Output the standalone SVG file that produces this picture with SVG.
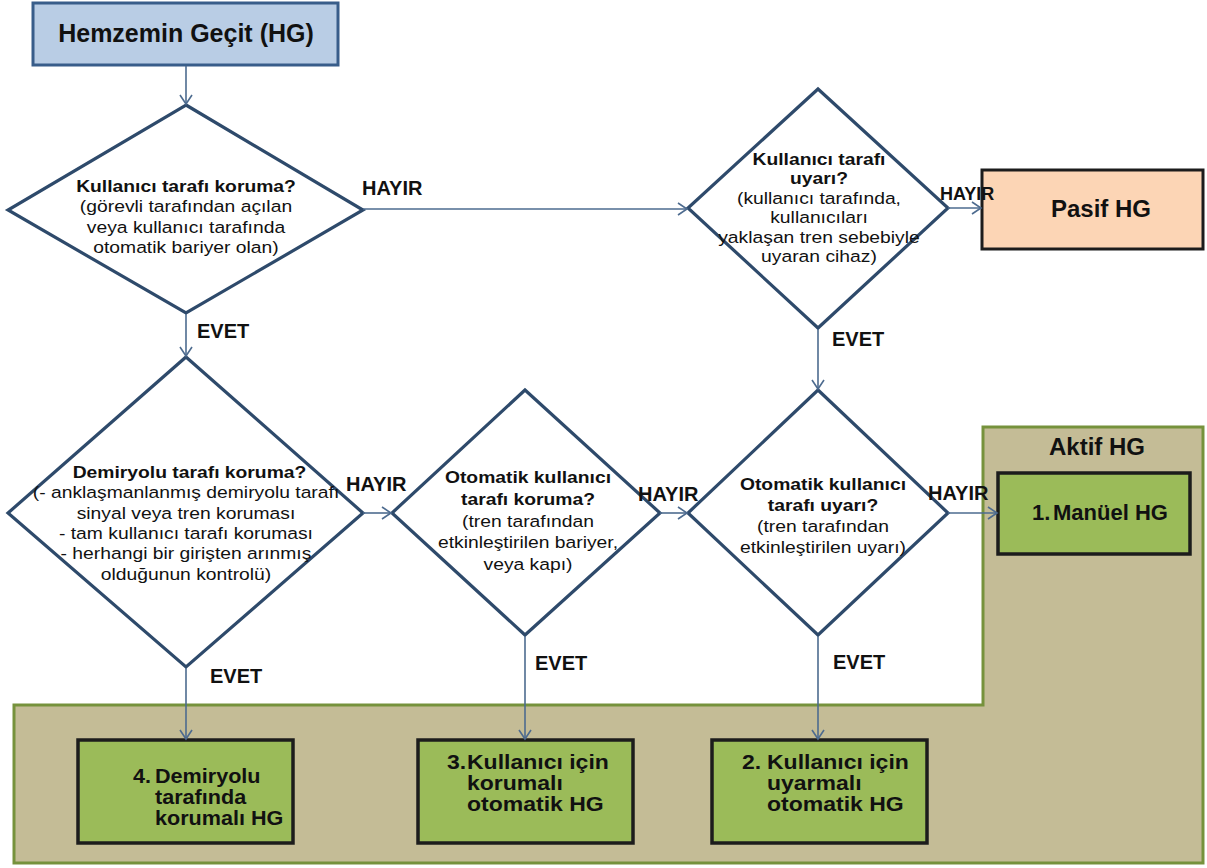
<svg xmlns="http://www.w3.org/2000/svg" width="1207" height="868" viewBox="0 0 1207 868">
<defs>
<style>
.t{font-family:"Liberation Sans",Arial,sans-serif;fill:#111;}
.b{font-weight:bold;}
.dia{fill:#fff;stroke:#2e4a6b;stroke-width:3.2;stroke-linejoin:miter;}
.res{fill:#9bbb59;stroke:#1c1c1c;stroke-width:3.5;}
.con{fill:none;stroke:#4d6b8f;stroke-width:1.6;marker-end:url(#ah);}
.lbl{font-family:"Liberation Sans",Arial,sans-serif;font-weight:bold;font-size:20px;fill:#111;}
.d{font-size:16.5px;text-anchor:middle;}
.bx{font-size:20px;font-weight:bold;}
</style>
<marker id="ah" markerUnits="userSpaceOnUse" markerWidth="12" markerHeight="14" refX="10" refY="7" orient="auto">
<path d="M1,1 L10,7 L1,13" fill="none" stroke="#4d6b8f" stroke-width="1.6"/>
</marker>
</defs>
<rect width="1207" height="868" fill="#fff"/>

<g id="aktif-hg">
<path d="M983,427 H1203 V863 H14 V705 H983 Z" fill="#c4bc96" stroke="#76923c" stroke-width="3"/>
<text class="t b" x="1097" y="455" font-size="24" text-anchor="middle">Aktif HG</text>
</g>

<g id="start">
<rect x="33" y="3" width="305" height="62" fill="#b9cde5" stroke="#385d8a" stroke-width="3"/>
<text class="t b" x="186" y="42" font-size="25" text-anchor="middle">Hemzemin Geçit (HG)</text>
</g>

<g id="d1">
<polygon class="dia" points="186,105 363,210 186,313 8,210"/>
<g transform="matrix(1.17 0 0 1 -31.62 0)">
<text class="t d b" x="186" y="192">Kullanıcı tarafı koruma?</text>
<text class="t d" x="186" y="212">(görevli tarafından açılan</text>
<text class="t d" x="186" y="233">veya kullanıcı tarafında</text>
<text class="t d" x="186" y="253">otomatik bariyer olan)</text>
</g>
</g>

<g id="d2">
<polygon class="dia" points="818,89 948,208 818,328 688,208"/>
<g transform="matrix(1.17 0 0 1 -139.23 0)">
<text class="t d b" x="819" y="165">Kullanıcı tarafı</text>
<text class="t d b" x="819" y="184">uyarı?</text>
<text class="t d" x="819" y="204">(kullanıcı tarafında,</text>
<text class="t d" x="819" y="223">kullanıcıları</text>
<text class="t d" x="819" y="243">yaklaşan tren sebebiyle</text>
<text class="t d" x="819" y="262">uyaran cihaz)</text>
</g>
</g>

<g id="pasif-hg">
<rect x="982" y="170" width="221" height="79" fill="#fcd5b5" stroke="#1c1c1c" stroke-width="3"/>
<text class="t b" x="1101" y="217" font-size="24" text-anchor="middle">Pasif HG</text>
</g>

<g id="d3">
<polygon class="dia" points="186,357 363,513 186,667 8,513"/>
<g transform="matrix(1.17 0 0 1 -31.62 0)">
<text class="t d b" x="189" y="478">Demiryolu tarafı koruma?</text>
<text class="t d" x="186" y="498">(- anklaşmanlanmış demiryolu tarafı</text>
<text class="t d" x="186" y="519">sinyal veya tren koruması</text>
<text class="t d" x="186" y="539">- tam kullanıcı tarafı koruması</text>
<text class="t d" x="186" y="559">- herhangi bir girişten arınmış</text>
<text class="t d" x="186" y="580">olduğunun kontrolü)</text>
</g>
</g>

<g id="d4">
<polygon class="dia" points="525,390 660,513 525,635 392,513"/>
<g transform="matrix(1.17 0 0 1 -89.76 0)">
<text class="t d b" x="528" y="483">Otomatik kullanıcı</text>
<text class="t d b" x="528" y="505">tarafı koruma?</text>
<text class="t d" x="528" y="527">(tren tarafından</text>
<text class="t d" x="528" y="548">etkinleştirilen bariyer,</text>
<text class="t d" x="528" y="570">veya kapı)</text>
</g>
</g>

<g id="d5">
<polygon class="dia" points="818,390 948,513 818,635 688,513"/>
<g transform="matrix(1.17 0 0 1 -139.91 0)">
<text class="t d b" x="823" y="490">Otomatik kullanıcı</text>
<text class="t d b" x="823" y="511">tarafı uyarı?</text>
<text class="t d" x="823" y="532">(tren tarafından</text>
<text class="t d" x="823" y="553">etkinleştirilen uyarı)</text>
</g>
</g>

<g id="hg1">
<rect class="res" x="998" y="473" width="192" height="81"/>
<text class="t b" x="1032" y="520" font-size="22">1.</text>
<text class="t b" x="1053" y="520" font-size="22">Manüel HG</text>
</g>

<g id="hg4">
<rect class="res" x="78" y="740" width="215" height="103"/>
<g transform="matrix(1.08 0 0 1 -12.4 0)">
<text class="t bx" x="134.6" y="783">4.</text>
<text class="t bx" x="155" y="783">Demiryolu</text>
<text class="t bx" x="155" y="804">tarafında</text>
<text class="t bx" x="155" y="825">korumalı HG</text>
</g>
</g>

<g id="hg3">
<rect class="res" x="418" y="740" width="215" height="103"/>
<g transform="matrix(1.15 0 0 1 -70.05 0)">
<text class="t bx" x="449.6" y="769">3.</text>
<text class="t bx" x="467" y="769">Kullanıcı için</text>
<text class="t bx" x="467" y="790">korumalı</text>
<text class="t bx" x="467" y="811">otomatik HG</text>
</g>
</g>

<g id="hg2">
<rect class="res" x="712" y="740" width="215" height="103"/>
<g transform="matrix(1.15 0 0 1 -115.05 0)">
<text class="t bx" x="745.3" y="769">2.</text>
<text class="t bx" x="767" y="769">Kullanıcı için</text>
<text class="t bx" x="767" y="790">uyarmalı</text>
<text class="t bx" x="767" y="811">otomatik HG</text>
</g>
</g>

<g id="connectors">
<line class="con" x1="186" y1="66" x2="186" y2="104"/>
<line class="con" x1="363" y1="209" x2="687" y2="209"/>
<line class="con" x1="948" y1="208" x2="981" y2="208"/>
<line class="con" x1="186" y1="314" x2="186" y2="356"/>
<line class="con" x1="818" y1="329" x2="818" y2="389"/>
<line class="con" x1="363" y1="513" x2="391" y2="513"/>
<line class="con" x1="660" y1="513" x2="687" y2="513"/>
<line class="con" x1="948" y1="513" x2="997" y2="513"/>
<line class="con" x1="186" y1="668" x2="186" y2="739"/>
<line class="con" x1="525" y1="636" x2="525" y2="739"/>
<line class="con" x1="818" y1="636" x2="818" y2="739"/>
<text class="lbl" x="362" y="195">HAYIR</text>
<text class="lbl" x="197" y="338">EVET</text>
<text class="lbl" x="940" y="200" style="font-size:18px">HAYIR</text>
<text class="lbl" x="832" y="346">EVET</text>
<text class="lbl" x="346" y="491">HAYIR</text>
<text class="lbl" x="638" y="501">HAYIR</text>
<text class="lbl" x="928" y="500">HAYIR</text>
<text class="lbl" x="210" y="683">EVET</text>
<text class="lbl" x="535" y="670">EVET</text>
<text class="lbl" x="833" y="669">EVET</text>
</g>
</svg>
